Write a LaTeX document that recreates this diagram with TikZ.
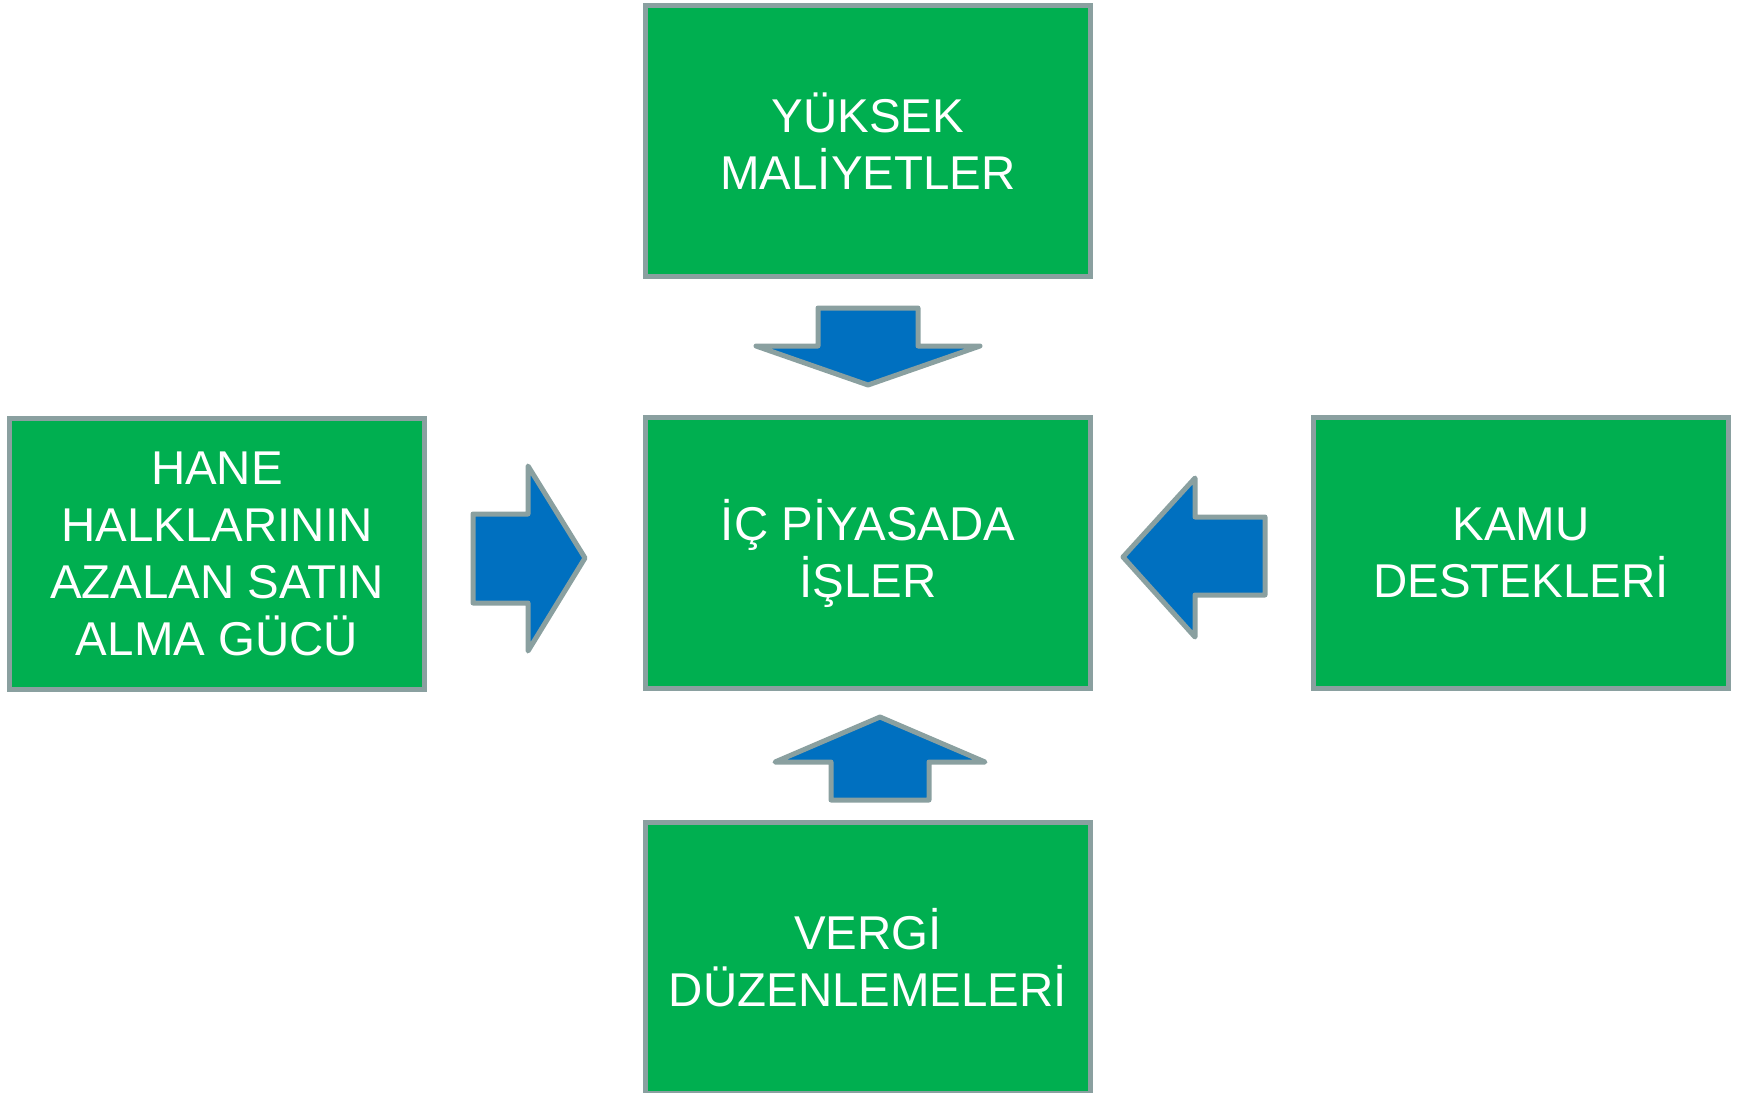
\documentclass[tikz,border=0pt]{standalone}
\usepackage{fontspec}
\setmainfont{Liberation Sans}
\usepackage{tikz}
\usetikzlibrary{calc}
\definecolor{kutuyesil}{HTML}{00AF50}
\definecolor{okmavi}{HTML}{0070C0}
\definecolor{kenargri}{HTML}{8AA0A0}

\begin{document}
\begin{tikzpicture}[x=0.02cm,y=-0.02cm,
    box/.style={draw=kenargri,line width=0.1cm,fill=kutuyesil,text=white,
      align=center,minimum width=8.9cm,minimum height=5.42cm,
      font=\fontsize{27}{32.4}\selectfont},
    blk/.style={draw=kenargri,line width=0.1cm,fill=okmavi,line join=round}]
    \useasboundingbox (0,0) rectangle (1740,1092);
    \node[box] (ym) at (868,141) {YÜKSEK\\MALİYETLER};
    \node[box] (ic) at (868,553) {İÇ PİYASADA\\İŞLER};
    \node[box,minimum width=8.3cm] (hane) at (217,554) {HANE\\HALKLARININ\\AZALAN SATIN\\ALMA GÜCÜ};
    \node[box,minimum width=8.3cm] (kamu) at (1521,553) {KAMU\\DESTEKLERİ};
    \node[box] (vergi) at (868,958) {VERGİ\\DÜZENLEMELERİ};
    % down
    \draw[blk] (818,308) -- (918,308) -- (918,346) -- (980,346) -- (868,385)
      -- (756,346) -- (818,346) -- cycle;
    % right
    \draw[blk] (473,514) -- (528,514) -- (528,466) -- (585,558) -- (528,651)
      -- (528,603) -- (473,603) -- cycle;
    % left
    \draw[blk] (1265,517) -- (1195,517) -- (1195,478) -- (1123,557) -- (1195,637)
      -- (1195,595) -- (1265,595) -- cycle;
    % up
    \draw[blk] (831,800) -- (831,762) -- (775,762) -- (880,717) -- (985,762)
      -- (929,762) -- (929,800) -- cycle;
\end{tikzpicture}
\end{document}
